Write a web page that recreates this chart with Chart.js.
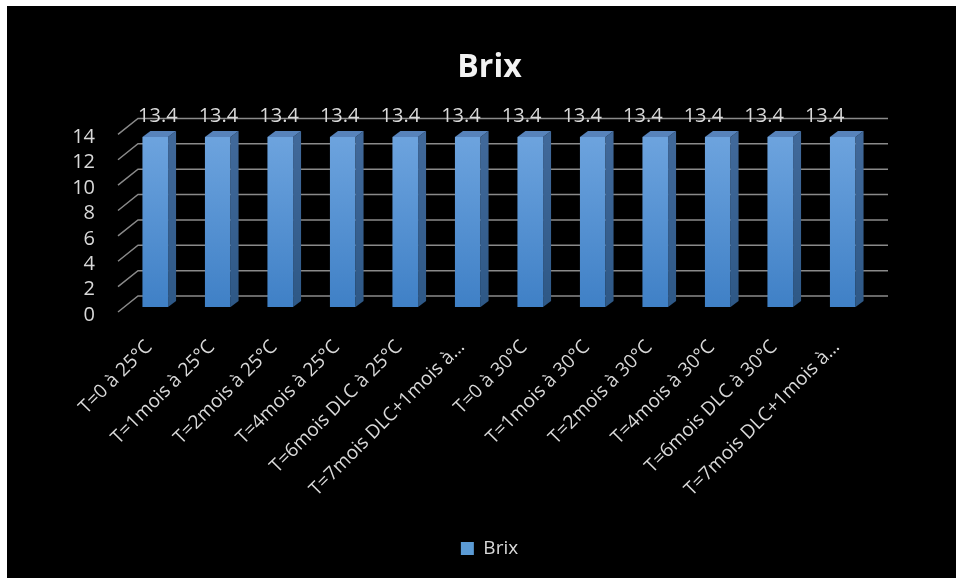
<!DOCTYPE html>
<html>
<head>
<meta charset="utf-8">
<script src="https://cdn.jsdelivr.net/npm/chart.js@4"></script>
<style>
  html, body { margin: 0; padding: 0; background: #fff; }
  #wrap { position: absolute; left: 7px; top: 6px; width: 949px; height: 572px; background: #000; }
</style>
</head>
<body>
<div id="wrap"><canvas id="brixChart" width="949" height="572"></canvas></div>
<script>
// data
const categories = [
  "T=0 à 25°C", "T=1mois à 25°C", "T=2mois à 25°C", "T=4mois à 25°C",
  "T=6mois DLC à 25°C", "T=7mois DLC+1mois à…",
  "T=0 à 30°C", "T=1mois à 30°C", "T=2mois à 30°C", "T=4mois à 30°C",
  "T=6mois DLC à 30°C", "T=7mois DLC+1mois à…"
];
const brixValues = [13.4, 13.4, 13.4, 13.4, 13.4, 13.4, 13.4, 13.4, 13.4, 13.4, 13.4, 13.4];
const yTicks = { min: 0, max: 14, step: 2 };

const FONT = "'Open Sans', sans-serif";
const TEXT = "#d9d9d9";
const GRID = "#8a8a8a";
const DEPTH = { dx: 8, dy: 6 };     // bar depth
const WALL = { dx: 14, dy: 11 };    // back wall offset

// back wall grid, drawn in 3D style
const wallGrid = {
  id: "wallGrid",
  beforeDatasetsDraw(chart) {
    const { ctx, chartArea: a, scales: { y } } = chart;
    ctx.save();
    ctx.strokeStyle = GRID;
    ctx.lineWidth = 1.5;
    for (let v = yTicks.min; v <= yTicks.max; v += yTicks.step) {
      const yb = y.getPixelForValue(v);
      ctx.beginPath();
      ctx.moveTo(a.left - 6, yb + 5);
      ctx.lineTo(a.left + WALL.dx, yb - WALL.dy);
      ctx.lineTo(a.right + WALL.dx, yb - WALL.dy);
      ctx.stroke();
    }
    ctx.restore();
  }
};

// side + top faces of the bars, and value labels
const bars3d = {
  id: "bars3d",
  afterDatasetsDraw(chart) {
    const { ctx } = chart;
    const meta = chart.getDatasetMeta(0);
    ctx.save();
    meta.data.forEach((bar, i) => {
      const l = bar.x - bar.width / 2, r = bar.x + bar.width / 2;
      const side = ctx.createLinearGradient(0, bar.y, 0, bar.base);
      side.addColorStop(0, "#41699a");
      side.addColorStop(1, "#2e5886");
      ctx.fillStyle = side;
      ctx.beginPath();
      ctx.moveTo(r, bar.y);
      ctx.lineTo(r + DEPTH.dx, bar.y - DEPTH.dy);
      ctx.lineTo(r + DEPTH.dx, bar.base - DEPTH.dy);
      ctx.lineTo(r, bar.base);
      ctx.closePath();
      ctx.fill();

      ctx.fillStyle = "#5783bb";
      ctx.beginPath();
      ctx.moveTo(l, bar.y);
      ctx.lineTo(l + DEPTH.dx, bar.y - DEPTH.dy);
      ctx.lineTo(r + DEPTH.dx, bar.y - DEPTH.dy);
      ctx.lineTo(r, bar.y);
      ctx.closePath();
      ctx.fill();

      // value label (slight perspective shift)
      ctx.fillStyle = TEXT;
      ctx.font = "20px " + FONT;
      ctx.textAlign = "center";
      ctx.textBaseline = "middle";
      ctx.fillText(String(brixValues[i]), bar.x * 0.97 + 7, bar.y - 21);
    });
    ctx.restore();
  }
};

const ctx = document.getElementById("brixChart").getContext("2d");
const brixChart = new Chart(ctx, {
  type: "bar",
  data: {
    labels: categories,
    datasets: [{
      label: "Brix",
      data: brixValues,
      borderWidth: 0,
      barPercentage: 0.41,
      categoryPercentage: 1,
      backgroundColor: (c) => {
        const a = c.chart.chartArea;
        if (!a) return "#5b9bd5";
        const g = c.chart.ctx.createLinearGradient(0, a.top, 0, a.bottom);
        g.addColorStop(0, "#6fa5df");
        g.addColorStop(1, "#3f80c6");
        return g;
      }
    }]
  },
  options: {
    responsive: false,
    animation: false,
    layout: { padding: { left: 16, right: 0, top: 0, bottom: 10 } },
    plugins: {
      title: {
        display: true,
        text: "Brix",
        color: "#f2f2f2",
        font: { family: FONT, size: 32, weight: "bold" },
        padding: { top: 43, bottom: 42 }
      },
      legend: {
        position: "bottom",
        labels: {
          color: TEXT,
          font: { family: FONT, size: 19 },
          boxWidth: 13,
          boxHeight: 13,
          padding: 10,
          generateLabels: (chart) => {
            const items = Chart.defaults.plugins.legend.labels.generateLabels(chart);
            items.forEach(it => { it.fillStyle = "#5b9bd5"; it.strokeStyle = "#5b9bd5"; it.lineWidth = 0; });
            return items;
          }
        }
      },
      tooltip: { enabled: false }
    },
    scales: {
      x: {
        grid: { display: false, drawTicks: false },
        border: { display: false },
        ticks: {
          color: TEXT,
          font: { family: FONT, size: 19 },
          maxRotation: 45,
          minRotation: 45,
          autoSkip: false,
          padding: 29,
          labelOffset: -6
        },
        afterFit: (s) => { s.height = 222; }
      },
      y: {
        min: yTicks.min,
        max: yTicks.max,
        grid: { display: false, drawTicks: false },
        border: { display: false },
        ticks: {
          stepSize: yTicks.step,
          autoSkip: false,
          color: TEXT,
          font: { family: FONT, size: 20 },
          padding: 29,
          labelOffset: 8
        },
        afterFit: (s) => { s.width = 101; }
      },
      // empty space on the right, keeps the legend and title centred on the whole frame
      yRight: {
        position: "right",
        display: true,
        grid: { display: false, drawTicks: false },
        border: { display: false },
        ticks: { display: false },
        afterFit: (s) => { s.width = 82; }
      }
    }
  },
  plugins: [wallGrid, bars3d]
});
</script>
</body>
</html>
